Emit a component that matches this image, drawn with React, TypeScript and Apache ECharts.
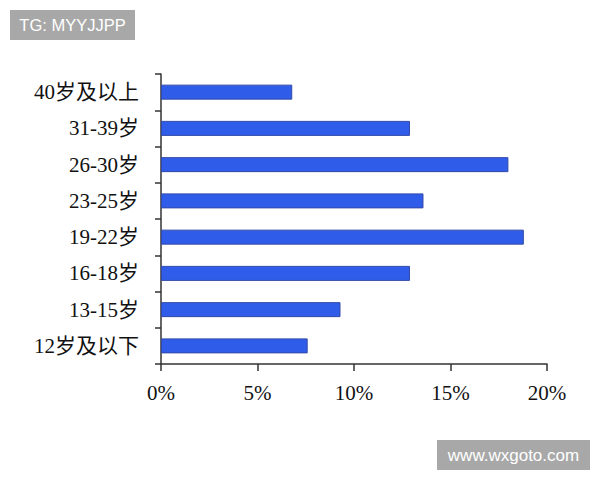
import React, { useEffect, useRef } from "react";
import * as echarts from "echarts";

// bottom to top, as drawn on the y axis
const ageGroups = [
  "12岁及以下",
  "13-15岁",
  "16-18岁",
  "19-22岁",
  "23-25岁",
  "26-30岁",
  "31-39岁",
  "40岁及以上",
];
const shares = [7.6, 9.3, 12.9, 18.8, 13.6, 18.0, 12.9, 6.8];
const xTicks = [0, 5, 10, 15, 20];

const serif = "'Liberation Serif', 'Times New Roman', 'Noto Sans CJK SC', serif";

const App: React.FC = () => {
  const chartRef = useRef<HTMLDivElement | null>(null);

  useEffect(() => {
    document.body.style.margin = "0";
    if (!chartRef.current) return;
    const chart = echarts.init(chartRef.current, null, { renderer: "svg" });

    const options = {
      animation: false,
      backgroundColor: "#ffffff",
      grid: { left: 161, right: 53, top: 74, bottom: 116 },
      xAxis: {
        type: "value",
        min: xTicks[0],
        max: xTicks[xTicks.length - 1],
        interval: 5,
        splitLine: { show: false },
        axisLine: { show: true, lineStyle: { color: "#333", width: 1.5 } },
        axisTick: { show: true, length: 7, lineStyle: { color: "#333", width: 1.5 } },
        axisLabel: {
          margin: 18,
          color: "#111",
          fontFamily: serif,
          fontSize: 21,
          formatter: "{value}%",
        },
      },
      yAxis: {
        type: "category",
        data: ageGroups,
        axisLine: { show: true, lineStyle: { color: "#333", width: 1.5 } },
        axisTick: { show: true, length: 6, lineStyle: { color: "#333", width: 1.5 } },
        axisLabel: {
          margin: 22,
          color: "#111",
          fontFamily: serif,
          fontSize: 21,
        },
      },
      series: [
        {
          type: "bar",
          data: shares,
          barWidth: 15,
          itemStyle: { color: "#2f5de9", borderColor: "#3349a8", borderWidth: 1 },
        },
      ],
      graphic: [
        {
          type: "group",
          left: 10,
          top: 10,
          children: [
            { type: "rect", shape: { x: 0, y: 0, width: 125, height: 30 }, style: { fill: "#a8a8a8" } },
            {
              type: "text",
              x: 62.5,
              y: 15,
              style: {
                text: "TG: MYYJJPP",
                fill: "#fff",
                font: "16.5px 'Liberation Sans', Arial, sans-serif",
                textAlign: "center",
                textVerticalAlign: "middle",
              },
            },
          ],
        },
        {
          type: "group",
          left: 437,
          top: 440,
          children: [
            { type: "rect", shape: { x: 0, y: 0, width: 153, height: 30 }, style: { fill: "#a8a8a8" } },
            {
              type: "text",
              x: 76.5,
              y: 15,
              style: {
                text: "www.wxgoto.com",
                fill: "#fff",
                font: "17px 'Liberation Sans', Arial, sans-serif",
                textAlign: "center",
                textVerticalAlign: "middle",
              },
            },
          ],
        },
      ],
    };

    chart.setOption(options);

    return () => {
      chart.dispose();
    };
  }, []);

  return <div ref={chartRef} style={{ width: "600px", height: "480px" }} />;
};

export default App;
